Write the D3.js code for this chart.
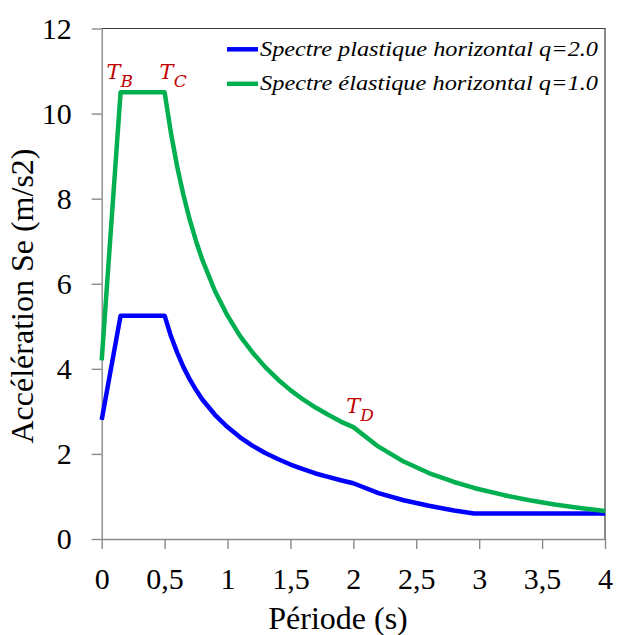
<!DOCTYPE html>
<html>
<head>
<meta charset="utf-8">
<script src="https://cdn.jsdelivr.net/npm/d3@7"></script>
<style>
  body { margin: 0; background: #fff; }
</style>
</head>
<body>
<div id="chart"></div>
<script>
// periods T (s)
const periods = [0, 0.15, 0.5, 0.55, 0.6, 0.65, 0.7, 0.75, 0.8, 0.9, 1.0, 1.1, 1.2, 1.3, 1.4, 1.5,
  1.6, 1.7, 1.8, 1.9, 2.0, 2.2, 2.4, 2.6, 2.8, 2.96, 3.0, 3.2, 3.4, 3.6, 3.8, 4.0]

// Spectre plastique horizontal q=2.0 (m/s2)
const plastique = [2.8, 5.25, 5.25, 4.77, 4.38, 4.04, 3.75, 3.5, 3.28, 2.92, 2.63, 2.39, 2.19, 2.02, 1.88, 1.75,
  1.64, 1.54, 1.46, 1.38, 1.31, 1.08, 0.91, 0.78, 0.67, 0.6, 0.6, 0.6, 0.6, 0.6, 0.6, 0.6]

// Spectre élastique horizontal q=1.0 (m/s2)
const elastique = [4.2, 10.5, 10.5, 9.55, 8.75, 8.08, 7.5, 7.0, 6.56, 5.83, 5.25, 4.77, 4.38, 4.04, 3.75, 3.5,
  3.28, 3.09, 2.92, 2.76, 2.63, 2.17, 1.82, 1.55, 1.34, 1.2, 1.17, 1.03, 0.91, 0.81, 0.73, 0.66]

const seriesNames = ['Spectre plastique horizontal q=2.0', 'Spectre élastique horizontal q=1.0']
const seriesColors = ['#0000ff', '#00b050']

const xTicks = [0, 0.5, 1, 1.5, 2, 2.5, 3, 3.5, 4]
const yTicks = [0, 2, 4, 6, 8, 10, 12]

// corner periods TB, TC, TD
const cornerNames = ['B', 'C', 'D']
const cornerPeriods = [0.15, 0.5, 2.0]
const cornerValues = [10.5, 10.5, 2.63]

const width = 618
const height = 635
const margin = { top: 28.5, right: 13, bottom: 96, left: 101.7 }

const svg = d3.select('#chart')
  .append('svg')
  .attr('width', width)
  .attr('height', height)
  .attr('font-family', 'serif')

const x = d3.scaleLinear()
  .domain([0, 4])
  .range([margin.left, width - margin.right])

const y = d3.scaleLinear()
  .domain([0, 12])
  .range([height - margin.bottom, margin.top])

const fmt = d => String(d).replace('.', ',')

// frame top / right
svg.append('path')
  .attr('d', `M${x(0)},${y(12)}H${x(4)}V${y(0)}`)
  .attr('fill', 'none')
  .attr('stroke', '#3a3a3a')
  .attr('stroke-width', 1.2)

// axes
const yAxis = svg.append('g')
  .attr('transform', `translate(${x(0)},0)`)
  .call(d3.axisLeft(y).tickValues(yTicks).tickFormat(d => d).tickSize(10).tickSizeOuter(0).tickPadding(20))

const xAxis = svg.append('g')
  .attr('transform', `translate(0,${y(0)})`)
  .call(d3.axisBottom(x).tickValues(xTicks).tickFormat(fmt).tickSize(10).tickSizeOuter(0).tickPadding(19))

// drop the axis default font so the texts take serif
yAxis.attr('font-family', 'serif').attr('font-size', 30)
xAxis.attr('font-family', 'serif').attr('font-size', 30)

svg.selectAll('.domain, .tick line')
  .attr('stroke', '#8a8a8a')
  .attr('stroke-width', 1.4)

svg.selectAll('.tick text')
  .attr('fill', '#000')
  .attr('font-family', 'serif')
  .attr('font-size', 30)

// axis titles
svg.append('text')
  .attr('transform', `translate(33,${296}) rotate(-90)`)
  .attr('text-anchor', 'middle')
  .attr('font-family', 'serif')
  .attr('font-size', 32)
  .text('Accélération Se (m/s2)')

svg.append('text')
  .attr('x', 338)
  .attr('y', 629)
  .attr('text-anchor', 'middle')
  .attr('font-family', 'serif')
  .attr('font-size', 32)
  .text('Période (s)')

// lines
const line = d3.line()
  .x((d, i) => x(periods[i]))
  .y(d => y(d))

const allSeries = [plastique, elastique]

svg.selectAll('.series')
  .data(allSeries)
  .join('path')
  .attr('class', 'series')
  .attr('d', line)
  .attr('fill', 'none')
  .attr('stroke', (d, i) => seriesColors[i])
  .attr('stroke-width', 4.5)
  .attr('stroke-linejoin', 'round')

// legend
const legend = svg.append('g')
  .attr('transform', 'translate(227,49.3)')

const legendRows = legend.selectAll('g')
  .data(seriesNames)
  .join('g')
  .attr('transform', (d, i) => `translate(0,${i * 34.5})`)

legendRows.append('line')
  .attr('x1', 0)
  .attr('x2', 31)
  .attr('stroke', (d, i) => seriesColors[i])
  .attr('stroke-width', 4.5)

legendRows.append('text')
  .attr('x', 33)
  .attr('y', 6.5)
  .attr('textLength', 338)
  .attr('lengthAdjust', 'spacingAndGlyphs')
  .attr('font-family', 'serif')
  .attr('font-style', 'italic')
  .attr('font-size', 22)
  .text(d => d)

// corner labels
const cornerDx = [-14, -5, -7]
const cornerDy = [-13, -13, -14]
const corners = svg.selectAll('.corner')
  .data(cornerNames)
  .join('text')
  .attr('class', 'corner')
  .attr('x', (d, i) => x(cornerPeriods[i]) + cornerDx[i])
  .attr('y', (d, i) => y(cornerValues[i]) + cornerDy[i])
  .attr('fill', '#c00000')
  .attr('font-family', 'DejaVu Serif')
  .attr('font-style', 'italic')
  .attr('font-size', 21)

corners.append('tspan').text('T')
corners.append('tspan')
  .attr('dy', 8)
  .attr('font-size', 17)
  .text(d => d)
</script>
</body>
</html>
